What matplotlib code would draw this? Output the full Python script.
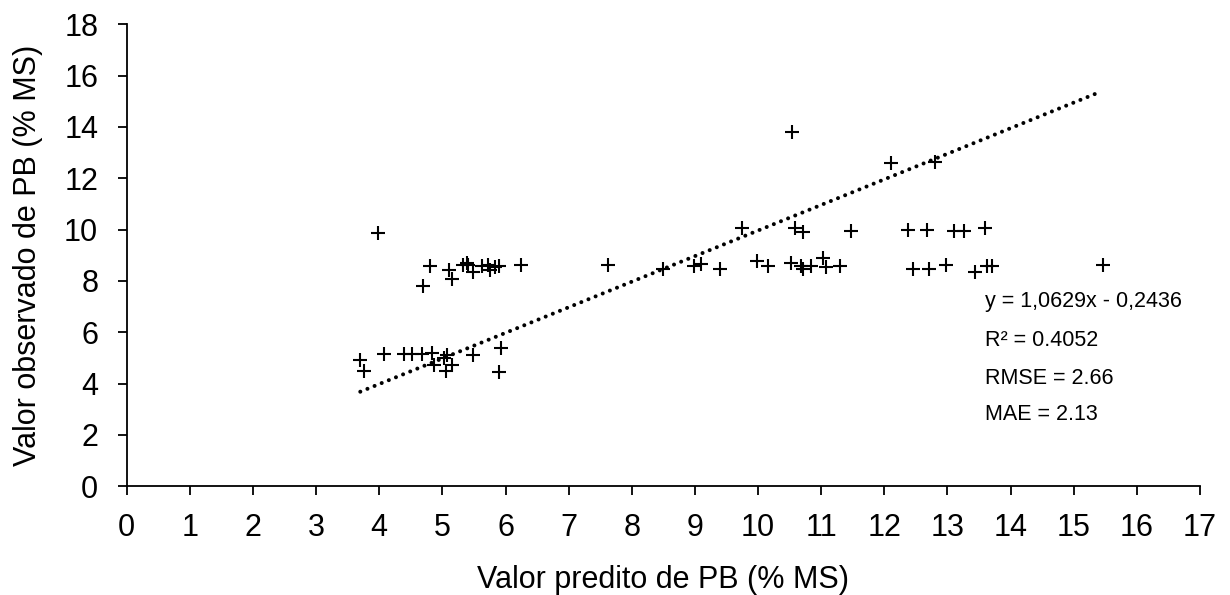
import matplotlib
matplotlib.use("Agg")
import matplotlib.pyplot as plt

plt.rcParams['font.family'] = ['Liberation Sans', 'DejaVu Sans']

# Predicted (x) and observed (y) crude protein values (% MS)
predicted = [3.70, 3.76, 4.07, 4.39, 4.52, 4.68, 4.83, 4.86, 5.03, 5.08, 5.06, 5.15, 5.48, 5.93, 5.90,
             3.98, 4.69, 4.81, 5.11, 5.15, 5.32, 5.39, 5.41, 5.48, 5.63, 5.72, 5.76, 5.84, 5.89, 6.25,
             7.63, 8.50, 8.99, 9.09, 9.39, 9.75, 9.98, 10.16, 10.52, 10.54, 10.58, 10.68, 10.71, 10.72,
             10.84, 11.03, 11.07, 11.30, 11.47,
             12.10, 12.80, 12.37, 12.68, 13.10, 13.27, 13.59, 12.46, 12.70, 12.98, 13.43, 13.63, 13.71, 15.47]
observed = [4.91, 4.50, 5.15, 5.15, 5.15, 5.15, 5.17, 4.72, 5.00, 5.12, 4.50, 4.72, 5.10, 5.39, 4.46,
            9.86, 7.80, 8.59, 8.42, 8.06, 8.62, 8.71, 8.62, 8.36, 8.58, 8.62, 8.42, 8.53, 8.58, 8.62,
            8.62, 8.45, 8.58, 8.65, 8.45, 10.08, 8.78, 8.58, 8.71, 13.79, 10.08, 8.58, 8.45, 9.89,
            8.58, 8.91, 8.53, 8.58, 9.95,
            12.60, 12.64, 9.98, 9.98, 9.95, 9.95, 10.08, 8.45, 8.45, 8.62, 8.34, 8.58, 8.60, 8.62]

# Trend line end points as drawn
trend_x = [3.70, 15.40]
trend_y = [3.68, 15.35]

annotation_lines = ["y = 1,0629x - 0,2436", "R\u00b2 = 0.4052", "RMSE = 2.66", "MAE = 2.13"]

x_ticks = list(range(0, 18))
y_ticks = list(range(0, 19, 2))

fig = plt.figure(figsize=(12.3, 5.95), dpi=100)
ax = fig.add_axes([0.103, 0.183, 0.8726, 0.776])

ax.plot(trend_x, trend_y, color='black', linewidth=2.9,
        linestyle=(0, (0.01, 1.9)), dash_capstyle='round')
ax.plot(predicted, observed, linestyle='none', marker='+', color='black',
        markersize=10, markeredgewidth=1.5)

ax.set_xlim(0, 17)
ax.set_ylim(0, 18)
ax.set_xticks(x_ticks)
ax.set_yticks(y_ticks)
ax.tick_params(axis='both', direction='out', length=6.5, width=1.3, labelsize=22)
ax.tick_params(axis='x', pad=12.5)
ax.tick_params(axis='y', pad=14)
for s in ['top', 'right']:
    ax.spines[s].set_visible(False)
for s in ['left', 'bottom']:
    ax.spines[s].set_linewidth(1.3)

ax.set_xlabel("Valor predito de PB (% MS)", fontsize=22)
ax.set_ylabel("Valor observado de PB (% MS)", fontsize=22)
ax.xaxis.set_label_coords(0.5, -0.171)
ax.yaxis.set_label_coords(-0.078, 0.5)

ty = [301.7, 340, 378, 415]
for txt, yp in zip(annotation_lines, ty):
    fig.text(985 / 1230, 1 - yp / 595, txt, fontsize=15.5, va='center', ha='left')

fig.savefig("out.png", dpi=100)
